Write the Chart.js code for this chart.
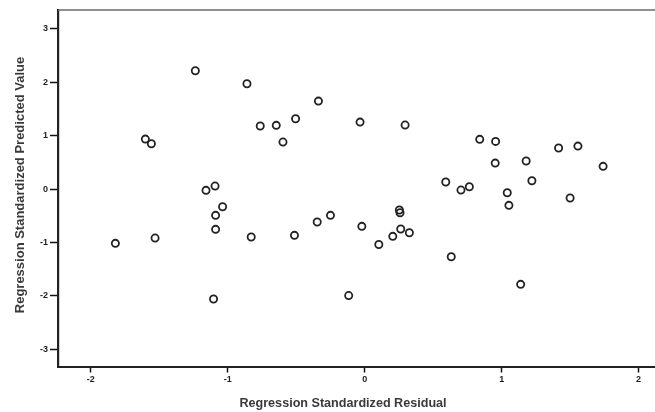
<!DOCTYPE html>
<html>
<head>
<meta charset="utf-8">
<script src="https://cdn.jsdelivr.net/npm/chart.js@4.4.1/dist/chart.umd.min.js"></script>
<style>
  html, body { margin: 0; padding: 0; background: #ffffff; }
  #wrap { width: 655px; height: 412px; position: relative; }
</style>
</head>
<body>
<div id="wrap"><canvas id="c" width="655" height="412"></canvas></div>
<script>
// Regression Standardized Residual (x) vs Regression Standardized Predicted Value (y)
const residuals = [
  -1.237, -0.860, -0.338, -0.505, -0.763, -0.646, -0.597, -1.602, -1.558, -0.034,
   0.295,  0.840,  0.956,  1.416,  1.557,  0.953,  1.179,  1.741,  0.592,  0.703,
   0.764,  1.221,  1.041,  1.053,  1.500, -1.093, -1.159, -1.038, -1.089, -1.089,
  -1.821, -1.531, -0.829, -0.513, -0.347, -0.250, -0.021,  0.253,  0.258,  0.205,
   0.263,  0.326,  0.103,  0.632,  1.139, -1.104, -0.117
];
const predicted = [
   2.213,  1.970,  1.646,  1.315,  1.179,  1.192,  0.879,  0.935,  0.848,  1.253,
   1.197,  0.930,  0.892,  0.767,  0.804,  0.486,  0.524,  0.425,  0.131, -0.019,
   0.043,  0.155, -0.069, -0.305, -0.168,  0.056, -0.024, -0.331, -0.492, -0.754,
  -1.016, -0.917, -0.898, -0.866, -0.617, -0.492, -0.698, -0.393, -0.443, -0.885,
  -0.748, -0.818, -1.038, -1.267, -1.783, -2.058, -1.993
];
const xTicks = [-2, -1, 0, 1, 2];
const yTicks = [-3, -2, -1, 0, 1, 2, 3];
const xTitle = 'Regression Standardized Residual';
const yTitle = 'Regression Standardized Predicted Value';

const points = residuals.map((r, i) => ({ x: r, y: predicted[i] }));

const frameAndTitles = {
  id: 'frameAndTitles',
  afterDraw(chart) {
    const { ctx, chartArea } = chart;
    ctx.save();
    // top frame line
    ctx.strokeStyle = '#6a6a6a';
    ctx.lineWidth = 1.6;
    ctx.beginPath();
    ctx.moveTo(chartArea.left, chartArea.top);
    ctx.lineTo(chartArea.right, chartArea.top);
    ctx.stroke();
    // axis titles
    ctx.fillStyle = '#3a3a3a';
    ctx.font = 'bold 12.6px "Liberation Sans", Arial, sans-serif';
    ctx.textAlign = 'center';
    ctx.textBaseline = 'middle';
    ctx.fillText(xTitle, 343, 404);
    ctx.translate(20, 185);
    ctx.rotate(-Math.PI / 2);
    ctx.font = 'bold 13px "Liberation Sans", Arial, sans-serif';
    ctx.fillText(yTitle, 0, 0);
    ctx.restore();
  }
};

new Chart(document.getElementById('c'), {
  type: 'scatter',
  data: {
    datasets: [{
      data: points,
      pointRadius: 3.6,
      pointHoverRadius: 3.6,
      pointBorderWidth: 1.8,
      borderColor: '#222222',
      backgroundColor: 'rgba(0,0,0,0)',
      pointBackgroundColor: 'rgba(0,0,0,0)'
    }]
  },
  options: {
    responsive: false,
    animation: false,
    layout: { autoPadding: false, padding: { top: 10, right: 0, left: 0, bottom: 0 } },
    plugins: { legend: { display: false }, tooltip: { enabled: false } },
    scales: {
      x: {
        type: 'linear',
        min: -2.24,
        max: 2.12,
        afterBuildTicks: s => { s.ticks = xTicks.map(v => ({ value: v })); },
        afterFit: s => { s.height = 45.5; s.paddingLeft = 0; s.paddingRight = 0; },
        grid: { drawOnChartArea: false, tickLength: 6, tickColor: '#111', tickWidth: 1.5 },
        border: { display: true, color: '#222', width: 2 },
        ticks: {
          padding: 2,
          color: '#222',
          font: { family: '"Liberation Sans", Arial, sans-serif', size: 9, weight: 'bold' },
          callback: v => String(v)
        }
      },
      y: {
        type: 'linear',
        min: -3.32,
        max: 3.35,
        afterBuildTicks: s => { s.ticks = yTicks.map(v => ({ value: v })); },
        afterFit: s => { s.width = 58; s.paddingTop = 0; s.paddingBottom = 0; },
        grid: { drawOnChartArea: false, tickLength: 8, tickColor: '#111', tickWidth: 1.5 },
        border: { display: true, color: '#222', width: 2.2 },
        ticks: {
          padding: 2,
          color: '#222',
          font: { family: '"Liberation Sans", Arial, sans-serif', size: 9, weight: 'bold' },
          callback: v => String(v)
        }
      }
    }
  },
  plugins: [frameAndTitles]
});
</script>
</body>
</html>
